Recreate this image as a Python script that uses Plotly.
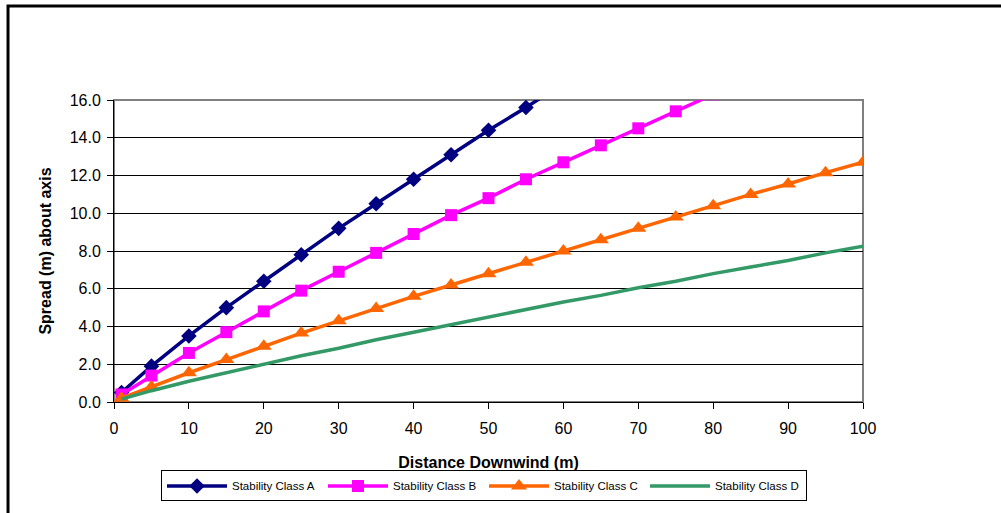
import plotly.graph_objects as go

# Data
x_a = [1, 5, 10, 15, 20, 25, 30, 35, 40, 45, 50, 55, 60]
y_a = [0.5, 1.9, 3.5, 5.0, 6.4, 7.8, 9.2, 10.5, 11.8, 13.1, 14.4, 15.6, 16.9]

x_b = [1, 5, 10, 15, 20, 25, 30, 35, 40, 45, 50, 55, 60, 65, 70, 75, 80]
y_b = [0.4, 1.4, 2.6, 3.7, 4.8, 5.9, 6.9, 7.9, 8.9, 9.9, 10.8, 11.8, 12.7, 13.6, 14.5, 15.4, 16.3]

x_c = [1, 5, 10, 15, 20, 25, 30, 35, 40, 45, 50, 55, 60, 65, 70, 75, 80, 85, 90, 95, 100]
y_c = [0.2, 0.8, 1.55, 2.25, 2.95, 3.65, 4.3, 4.95, 5.6, 6.2, 6.8, 7.4, 8.0, 8.6, 9.2, 9.8,
       10.4, 11.0, 11.55, 12.15, 12.7]

x_d = [1, 5, 10, 15, 20, 25, 30, 35, 40, 45, 50, 55, 60, 65, 70, 75, 80, 85, 90, 95, 100]
y_d = [0.15, 0.6, 1.1, 1.55, 2.0, 2.45, 2.85, 3.3, 3.7, 4.1, 4.5, 4.9, 5.3, 5.65, 6.05,
       6.4, 6.8, 7.15, 7.5, 7.9, 8.25]

series_names = ["Stability Class A", "Stability Class B", "Stability Class C", "Stability Class D"]
x_ticks = [0, 10, 20, 30, 40, 50, 60, 70, 80, 90, 100]
y_ticks = [0, 2, 4, 6, 8, 10, 12, 14, 16]

FONT = "Liberation Sans, Arial, sans-serif"

fig = go.Figure()
fig.add_trace(go.Scatter(x=x_a, y=y_a, name=series_names[0], mode="lines+markers",
                         line=dict(color="#000080", width=3.5),
                         marker=dict(symbol="diamond", size=12, color="#000080")))
fig.add_trace(go.Scatter(x=x_b, y=y_b, name=series_names[1], mode="lines+markers",
                         line=dict(color="#FF00FF", width=3.5),
                         marker=dict(symbol="square", size=12, color="#FF00FF")))
fig.add_trace(go.Scatter(x=x_c, y=y_c, name=series_names[2], mode="lines+markers",
                         line=dict(color="#FF6600", width=3.5),
                         marker=dict(symbol="triangle-up", size=14, color="#FF6600")))
fig.add_trace(go.Scatter(x=x_d, y=y_d, name=series_names[3], mode="lines",
                         line=dict(color="#339966", width=3.5)))

# plot area border (gray) and outer chart frame
fig.add_shape(type="rect", xref="paper", yref="paper", x0=0, y0=0, x1=1, y1=1,
              line=dict(color="#808080", width=2), layer="below")
fig.add_shape(type="rect", xref="paper", yref="paper", x0=-0.1415, y0=-1, x1=2, y1=1.311,
              line=dict(color="black", width=3))

fig.update_layout(
    width=1001, height=513,
    margin=dict(l=114, r=138, t=100, b=111, autoexpand=False),
    paper_bgcolor="white", plot_bgcolor="white",
    font=dict(family=FONT, size=16, color="black"),
    showlegend=True,
    legend=dict(orientation="h", x=0.494, xanchor="center", y=-0.278, yanchor="middle",
                bordercolor="black", borderwidth=1, font=dict(size=11.5, family=FONT),
                itemwidth=60, traceorder="normal", tracegroupgap=0,
                entrywidthmode="pixels", entrywidth=86),
    xaxis=dict(range=[0, 100], tickvals=x_ticks, ticktext=[str(v) for v in x_ticks],
               ticks="outside", ticklen=6, tickcolor="black", showline=True,
               linecolor="black", linewidth=1, showgrid=False, zeroline=False,
               tickfont=dict(size=16), ticklabelstandoff=6, automargin=False,
               title=dict(text="<b>Distance Downwind (m)</b>", font=dict(size=16), standoff=20)),
    yaxis=dict(range=[0, 16], tickvals=y_ticks, ticktext=[f"{v:.1f}" for v in y_ticks],
               ticks="outside", ticklen=6, tickcolor="black", showline=True,
               linecolor="black", linewidth=1, showgrid=True, gridcolor="black",
               gridwidth=1, zeroline=False, tickfont=dict(size=16), automargin=False,
               ticklabelstandoff=3,
               title=dict(text="<b>Spread (m) about axis</b>", font=dict(size=16), standoff=14)),
)

fig.write_html("out.html")
